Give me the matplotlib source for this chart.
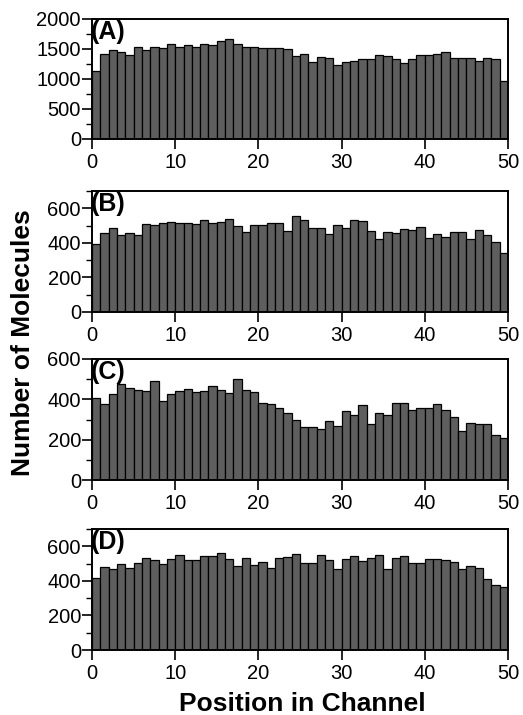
import numpy as np
import matplotlib.pyplot as plt
from matplotlib.ticker import MultipleLocator

# =========================================================
# Datos (lectura del histograma)
# =========================================================

positions = np.arange(50)

counts_a = [1128, 1417, 1478, 1444, 1406, 1539, 1489, 1533, 1522, 1589,
            1539, 1567, 1539, 1583, 1572, 1639, 1672, 1589, 1539, 1533,
            1517, 1522, 1522, 1500, 1378, 1422, 1283, 1372, 1356, 1239,
            1283, 1300, 1333, 1339, 1400, 1383, 1333, 1272, 1339, 1400,
            1394, 1411, 1456, 1356, 1356, 1356, 1294, 1356, 1328, 961]

counts_b = [394, 456, 485, 446, 458, 448, 508, 504, 517, 521,
            517, 517, 508, 533, 517, 523, 538, 500, 465, 506,
            504, 512, 512, 467, 558, 533, 488, 488, 454, 504,
            485, 531, 527, 471, 425, 465, 458, 483, 473, 494,
            429, 450, 435, 462, 465, 423, 477, 446, 406, 344]

counts_c = [407, 377, 427, 478, 455, 447, 440, 491, 391, 424,
            440, 452, 437, 442, 466, 445, 429, 499, 447, 437,
            382, 376, 359, 333, 298, 264, 264, 254, 295, 270,
            343, 321, 374, 280, 331, 321, 384, 382, 349, 356,
            356, 376, 349, 310, 242, 282, 279, 279, 224, 209]

counts_d = [416, 478, 466, 497, 474, 503, 532, 521, 497, 528,
            552, 521, 521, 546, 542, 559, 528, 484, 530, 492,
            507, 472, 534, 536, 554, 501, 501, 550, 521, 466,
            524, 542, 517, 534, 552, 468, 530, 542, 505, 505,
            524, 524, 519, 507, 468, 488, 476, 410, 377, 362]

panel_labels = ["(A)", "(B)", "(C)", "(D)"]
y_limits = [2000, 700, 600, 700]
y_major = [500, 200, 200, 200]
y_minor = [250, 100, 100, 100]

# =========================================================
# Figura
# =========================================================

plt.rcParams["font.family"] = ["Liberation Sans", "DejaVu Sans"]

W, H = 523, 715
fig = plt.figure(figsize=(W / 100, H / 100), dpi=100)

# (top, bottom) en píxeles
panel_px = [(19, 139), (191, 312), (359, 480), (529, 650)]
left_px, right_px = 92, 508

series = [counts_a, counts_b, counts_c, counts_d]

for k, (top, bottom) in enumerate(panel_px):
    ax = fig.add_axes([
        left_px / W,
        1 - bottom / H,
        (right_px - left_px) / W,
        (bottom - top) / H
    ])

    ax.bar(
        positions,
        series[k],
        width=1.0,
        align="edge",
        color="#5e5e5e",
        edgecolor="black",
        linewidth=0.9
    )

    ax.set_xlim(0, 50)
    ax.set_ylim(0, y_limits[k])
    ax.xaxis.set_major_locator(MultipleLocator(10))
    ax.yaxis.set_major_locator(MultipleLocator(y_major[k]))
    ax.yaxis.set_minor_locator(MultipleLocator(y_minor[k]))

    ax.tick_params(axis="both", which="major", direction="out",
                   length=7, width=1.2, labelsize=14.5)
    ax.tick_params(axis="y", which="major", pad=1)
    ax.tick_params(axis="x", which="major", pad=3)
    ax.tick_params(axis="y", which="minor", direction="out",
                   length=4, width=1.0)

    for s in ax.spines.values():
        s.set_linewidth(1.4)

    ax.text(
        -0.004, 0.995,
        panel_labels[k],
        transform=ax.transAxes,
        ha="left",
        va="top",
        fontsize=18,
        fontweight="bold"
    )

fig.text(
    23 / W, 1 - 343 / H,
    "Number of Molecules",
    rotation=90,
    ha="center",
    va="center",
    fontsize=19,
    fontweight="bold"
)

fig.text(
    302 / W, 1 - 711 / H,
    "Position in Channel",
    ha="center",
    va="baseline",
    fontsize=19,
    fontweight="bold"
)

fig.savefig("out.png", dpi=100)
